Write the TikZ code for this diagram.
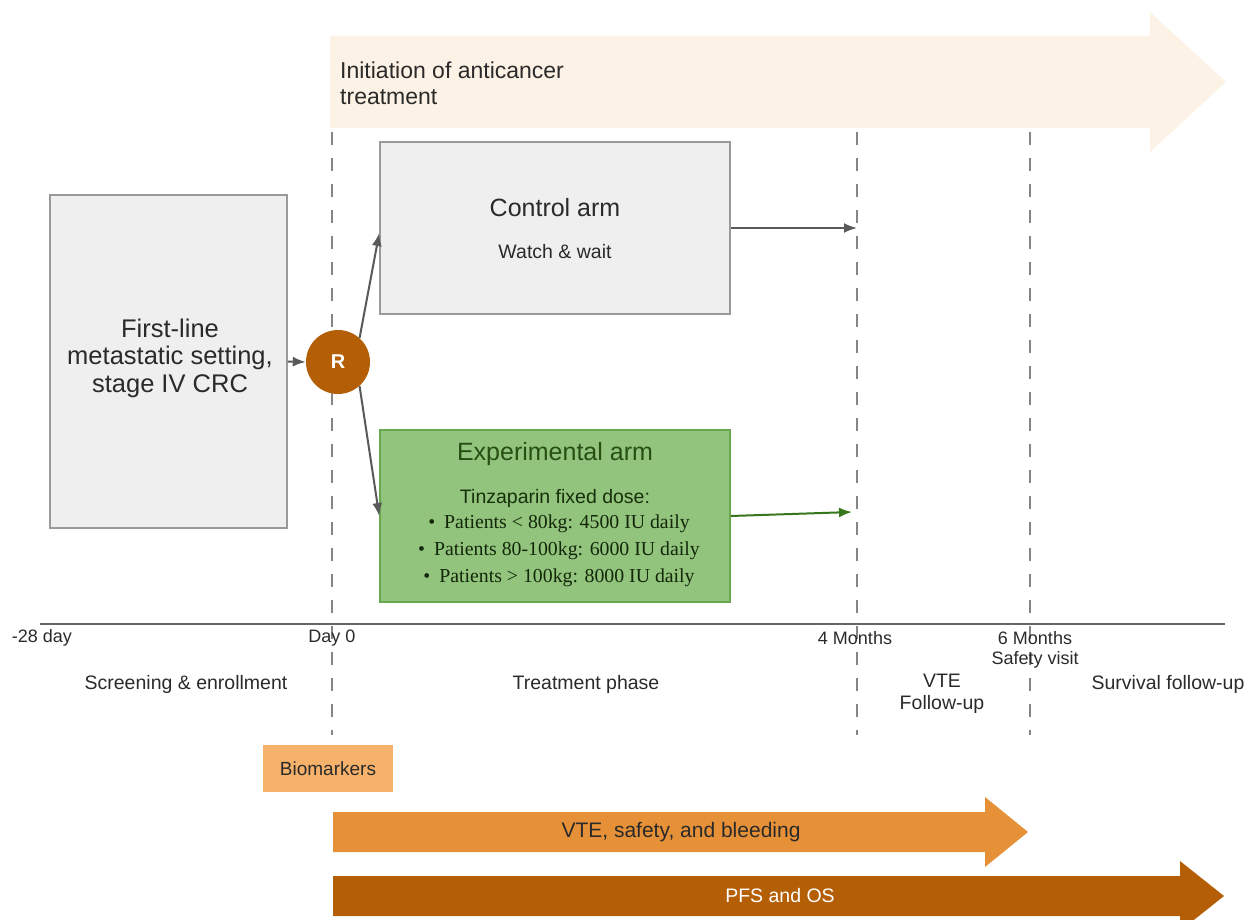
\documentclass[tikz,border=0pt]{standalone}
\usepackage{fontspec}
\setmainfont{Liberation Sans}
\newfontfamily\myserif{Liberation Serif}
\usetikzlibrary{arrows.meta,calc}
\definecolor{peach}{HTML}{FDF2E6}
\definecolor{boxgray}{HTML}{EFEFEF}
\definecolor{boxedge}{HTML}{9A9A9A}
\definecolor{expfill}{HTML}{93C47D}
\definecolor{expedge}{HTML}{6AA84F}
\definecolor{darkgreen}{HTML}{274E13}
\definecolor{arrgreen}{HTML}{38761D}
\definecolor{rbrown}{HTML}{B45F06}
\definecolor{lorange}{HTML}{F6B26B}
\definecolor{morange}{HTML}{E69138}
\definecolor{linegray}{HTML}{666666}
\definecolor{arrgray}{HTML}{595959}
\definecolor{txt}{HTML}{2A2A2A}
\tikzset{
  grbox/.style={draw=boxedge, line width=1.5pt, fill=boxgray, inner sep=0pt},
  expbox/.style={draw=expedge, line width=1.5pt, fill=expfill, inner sep=0pt},
  bigtxt/.style={font=\fontsize{25}{30}\selectfont, text=txt, inner sep=0pt},
  midtxt/.style={font=\fontsize{19.5}{24}\selectfont, text=txt, inner sep=0pt},
  axtxt/.style={font=\fontsize{18}{22}\selectfont, text=txt, inner sep=0pt},
  vdash/.style={draw=linegray!80, line width=1.6pt, dash pattern=on 13pt off 13pt},
  arr/.style={draw=arrgray, line width=2pt, -{Latex[length=13pt,width=10pt]}},
}
\begin{document}
\begin{tikzpicture}[x=1pt,y=-1pt]
\useasboundingbox (0,0) rectangle (1252,920);
% top arrow
\path[fill=peach] (330,36) -- (1150,36) -- (1150,12) -- (1226,82) -- (1150,152) -- (1150,128) -- (330,128) -- cycle;
\node[midtxt, font=\fontsize{23}{26}\selectfont, anchor=west, align=left] (init) at (340,83) {Initiation of anticancer\\treatment};
% dashed lines
\coordinate (d0t) at (332,132); \coordinate (d0b) at (332,735);
\coordinate (d4t) at (857,132); \coordinate (d4b) at (857,735);
\coordinate (d6t) at (1030,132); \coordinate (d6b) at (1030,735);
\draw[vdash] (d0t) -- (d0b);
\draw[vdash] (d4t) -- (d4b);
\draw[vdash] (d6t) -- (d6b);
% axis
\coordinate (axl) at (40,624); \coordinate (axr) at (1225,624);
\draw[linegray, line width=2pt] (axl) -- (axr);
% boxes
\node[grbox, minimum width=237, minimum height=333] (first) at (168.5,361.5) {};
\node[bigtxt, font=\fontsize{25.5}{27.5}\selectfont, align=center] (firsttxt) at (170,358) {First-line\\metastatic setting,\\stage IV CRC};
\node[grbox, minimum width=350, minimum height=172] (ctrl) at (555,228) {};
\node[bigtxt] (ctrlt) at (555,208) {Control arm};
\node[midtxt] (ctrls) at (555,252) {Watch \& wait};
\node[expbox, minimum width=350, minimum height=172] (exp) at (555,516) {};
\node[bigtxt, text=darkgreen] (expt) at (555,454) {Experimental arm};
\node[midtxt, text=darkgreen!60!black] (exps) at (555,498) {Tinzaparin fixed dose:};
\node[inner sep=0pt, align=center, text=darkgreen!50!black, font=\myserif\fontsize{19.8}{27}\selectfont] (expl) at (559,551)
 {\textbullet\hspace{9pt}Patients < 80kg: 4500 IU daily\\
  \textbullet\hspace{9pt}Patients 80-100kg: 6000 IU daily\\
  \textbullet\hspace{9pt}Patients > 100kg: 8000 IU daily};
% R
\node[circle, fill=rbrown, minimum size=64pt, inner sep=0pt, text=white, font=\bfseries\fontsize{20}{24}\selectfont] (R) at (338,362) {R};
% arrows
\draw[arr] (first.east) -- (R.west);
\draw[arr] (R.48) -- ([yshift=-5pt]ctrl.west);
\draw[arr] (R.-48) -- (exp.west);
\coordinate (c4) at (857,228);
\coordinate (e4) at (852,512);
\draw[arr] (ctrl.east) -- (c4);
\draw[arr, draw=arrgreen] (exp.east) -- (e4);
% axis labels
\node[axtxt] (m28) at (42,638) {-28 day};
\node[axtxt] (day0) at (332,638) {Day 0};
\node[axtxt] (m4) at (855,638) {4 Months};
\node[axtxt] (m6) at (1035,638) {6 Months};
\node[axtxt] (sv) at (1035,660) {Safety visit};
\node[midtxt] (scr) at (186,684) {Screening \& enrollment};
\node[midtxt] (trt) at (586,684) {Treatment phase};
\node[midtxt, align=center, font=\fontsize{19.5}{22}\selectfont] (vtef) at (942,694) {VTE\\Follow-up};
\node[midtxt] (surv) at (1168,684) {Survival follow-up};
% biomarkers
\node[fill=lorange, minimum width=130, minimum height=47, inner sep=0pt, font=\fontsize{19}{22}\selectfont, text=txt] (bio) at (328,768.5) {Biomarkers};
% bottom arrows
\path[fill=morange] (333,812) -- (985,812) -- (985,797) -- (1028,832) -- (985,867) -- (985,852) -- (333,852) -- cycle;
\node[midtxt, font=\fontsize{21}{25}\selectfont] (vte) at (681,832) {VTE, safety, and bleeding};
\path[fill=rbrown] (333,876) -- (1180,876) -- (1180,861) -- (1224,896) -- (1180,931) -- (1180,916) -- (333,916) -- cycle;
\node[midtxt, font=\fontsize{19.5}{24}\selectfont, text=white] (pfs) at (780,896) {PFS and OS};
\end{tikzpicture}
\end{document}
